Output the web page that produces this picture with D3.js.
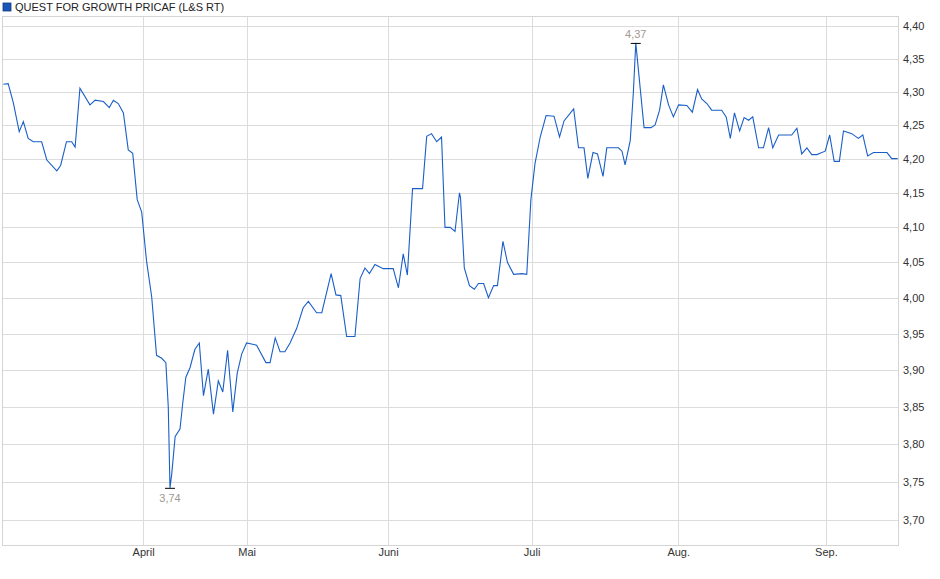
<!DOCTYPE html>
<html><head><meta charset="utf-8">
<script src="https://cdn.jsdelivr.net/npm/d3@7"></script>
<style>body{margin:0;background:#fff}svg{display:block;font-family:"Liberation Sans",Arial,sans-serif}</style>
</head><body><svg id="c" width="940" height="579"></svg>
<script>
const title = "QUEST FOR GROWTH PRICAF (L&S RT)";
const days = [0.1,1.5,3.0,4.7,5.9,7.3,8.8,11.2,12.7,15.6,16.7,18.4,19.9,20.9,22.3,25.2,26.7,29.1,30.8,32.0,33.4,34.9,36.3,37.6,38.9,40.2,41.6,43.1,44.5,46.0,47.2,47.9,48.4,48.9,49.9,51.3,52.1,53.0,54.2,55.6,56.9,58.1,59.5,61.0,62.4,63.7,65.1,66.6,67.9,69.2,70.6,73.5,76.2,77.4,78.9,80.3,81.7,83.2,85.1,87.0,88.5,90.9,92.4,95.1,96.5,97.9,99.6,102.0,103.5,104.9,106.2,107.8,110.2,113.1,114.6,116.0,117.2,118.7,121.6,122.8,124.2,125.7,127.1,128.1,129.6,131.0,132.3,
132.6,133.7,135.2,136.6,137.8,139.3,140.7,142.2,143.3,144.9,146.2,148.0,150.4,151.8,153.0,154.2,155.7,157.4,159.7,161.3,162.6,165.4,166.8,168.4,169.5,171.0,172.3,173.9,175.0,178.4,179.4,180.3,181.8,182.7,183.4,184.7,185.8,187.8,189.0,190.3,191.4,192.9,194.3,195.8,198.2,199.8,201.3,202.5,204.0,205.4,208.3,209.6,210.8,212.0,213.5,214.8,216.1,217.3,219.0,220.4,221.9,223.1,224.8,228.6,230.1,231.5,233.0,234.4,235.9,236.8,238.3,239.6,240.9,242.4,243.6,246.0,247.9,249.2,250.6,252.3,256.2,257.6,259.3];
const prices = [4.311,4.312,4.283,4.24,4.255,4.23,4.225,4.225,4.198,4.182,4.19,4.225,4.225,4.217,4.305,4.28,4.287,4.285,4.276,4.287,4.282,4.268,4.213,4.208,4.14,4.122,4.052,4.001,3.92,3.916,3.91,3.85,3.742,3.76,3.81,3.82,3.855,3.89,3.903,3.928,3.937,3.865,3.901,3.84,3.885,3.87,3.927,3.843,3.896,3.922,3.937,3.934,3.91,3.91,3.944,3.925,3.925,3.937,3.957,3.986,3.995,3.979,3.979,4.034,4.004,4.003,3.946,3.946,4.027,4.042,4.034,4.047,4.041,4.041,4.014,4.062,4.032,4.156,4.156,4.233,4.237,4.225,4.232,4.10,4.10,4.094,4.15,
4.143,4.042,4.017,4.012,4.02,4.02,4.00,4.017,4.017,4.08,4.05,4.033,4.034,4.033,4.14,4.193,4.232,4.264,4.263,4.232,4.256,4.274,4.216,4.216,4.171,4.209,4.207,4.174,4.216,4.216,4.211,4.191,4.227,4.299,4.374,4.304,4.246,4.246,4.25,4.272,4.31,4.28,4.262,4.28,4.279,4.269,4.303,4.289,4.282,4.272,4.272,4.262,4.23,4.268,4.241,4.261,4.257,4.262,4.216,4.216,4.246,4.216,4.235,4.235,4.245,4.207,4.216,4.206,4.206,4.208,4.211,4.235,4.196,4.196,4.241,4.237,4.23,4.235,4.204,4.209,4.209,4.20,4.20];
const monthLabels = ["April","Mai","Juni","Juli","Aug.","Sep."];
const monthDays = [40.6,70.6,111.6,153.2,195.7,238.5];
const yTicks = [3.70,3.75,3.80,3.85,3.90,3.95,4.00,4.05,4.10,4.15,4.20,4.25,4.30,4.35,4.40];
const minLabel = "3,74", maxLabel = "4,37";

const L=3,R=898,T=16,B=545;
const svg=d3.select("#c");
const x=d3.scaleLinear().domain([0,259.4]).range([L,R]);
const y=d3.scaleLog().domain([3.6677,4.4155]).range([B,T]);
const fmt=v=>v.toFixed(2).replace(".",",");

svg.append("rect").attr("x",3).attr("y",3).attr("width",8).attr("height",8).attr("fill","#1a56b8").attr("stroke","#0d3a80").attr("stroke-width",0.8);
svg.append("text").attr("x",15).attr("y",11).attr("font-size",11).attr("fill","#222").text(title);

const g=svg.append("g");
g.selectAll(".h").data(yTicks).join("line").attr("x1",L).attr("x2",R).attr("y1",d=>Math.round(y(d))+0.5).attr("y2",d=>Math.round(y(d))+0.5).attr("stroke","#dcdcdc");
g.selectAll(".v").data(monthDays).join("line").attr("y1",T).attr("y2",B).attr("x1",d=>Math.round(x(d))+0.5).attr("x2",d=>Math.round(x(d))+0.5).attr("stroke","#dcdcdc");
g.append("rect").attr("x",L-0.5).attr("y",T+0.5).attr("width",R-L+1).attr("height",B-T).attr("fill","none").attr("stroke","#d4d4d4");

// y axis labels
const ya=svg.append("g").attr("transform",`translate(${R},0)`).call(d3.axisRight(y).tickValues(yTicks).tickFormat(fmt).tickSize(0).tickPadding(5));
ya.select(".domain").remove();
ya.selectAll("text").attr("font-size",11).attr("fill","#333").attr("font-family","Liberation Sans, Arial");
// x axis labels
const xa=svg.append("g").attr("transform",`translate(0,${B})`).call(d3.axisBottom(x).tickValues(monthDays).tickFormat((d,i)=>monthLabels[i]).tickSize(0).tickPadding(3));
xa.select(".domain").remove();
xa.selectAll("text").attr("font-size",11).attr("fill","#333").attr("font-family","Liberation Sans, Arial");

const data=days.map((d,i)=>[d,prices[i]]);
svg.append("path").datum(data).attr("fill","none").attr("stroke","#1a5fc8").attr("stroke-width",1.1)
  .attr("d",d3.line().x(d=>x(d[0])).y(d=>y(d[1])));

const iMin=d3.minIndex(prices), iMax=d3.maxIndex(prices);
const mx=x(days[iMin]), my=y(prices[iMin]);
svg.append("line").attr("x1",mx-5).attr("x2",mx+5).attr("y1",my+0.5).attr("y2",my+0.5).attr("stroke","#000");
svg.append("text").attr("x",mx).attr("y",my+14).attr("text-anchor","middle").attr("font-size",11).attr("fill","#a09890").text(minLabel);
const Mx=x(days[iMax]), My=y(prices[iMax]);
svg.append("line").attr("x1",Mx-5).attr("x2",Mx+5).attr("y1",My+0.5).attr("y2",My+0.5).attr("stroke","#000");
svg.append("text").attr("x",Mx).attr("y",My-5).attr("text-anchor","middle").attr("font-size",11).attr("fill","#a09890").text(maxLabel);
</script></body></html>
